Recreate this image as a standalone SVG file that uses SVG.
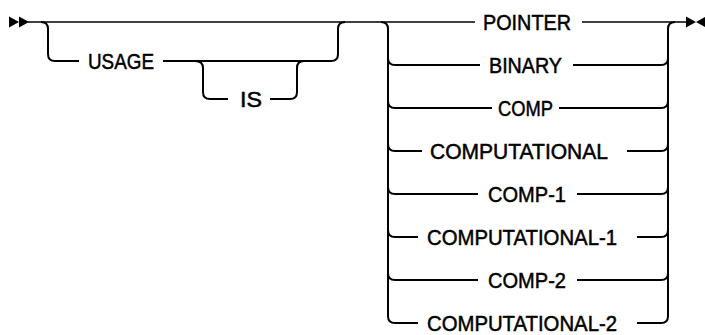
<svg xmlns="http://www.w3.org/2000/svg" width="705" height="335" viewBox="0 0 705 335">
<style>
.ln{fill:none;stroke:#000;stroke-width:2;stroke-linecap:butt}
.mn{fill:none;stroke:#000;stroke-width:1.6}
.ar{fill:#000;stroke:none}
text{font-family:"Liberation Sans",Arial,sans-serif;font-size:22px;fill:#000;stroke:#000;stroke-width:0.5}
</style>
<rect width="705" height="335" fill="#fff"/>
<g id="connectors">
<path class="ar" d="M9,16.5 L19,22 L9,27.5 Z M19,16.5 L29,22 L19,27.5 Z"/>
<path class="mn" d="M28,22 H475 M582,22 H686"/>
<path class="ar" d="M686,16.5 L696,22 L686,27.5 Z M706,16.5 L696,22 L706,27.5 Z"/>
<path class="ln" d="M41,22 Q48,22 48,29 V54 Q48,61 55,61 H79"/>
<path class="ln" d="M163,61 H331 Q338,61 338,54 V29 Q338,22 345,22"/>
<path class="ln" d="M195,61 Q203,61 203,68 V92 Q203,99 210,99 H228"/>
<path class="ln" d="M270,99 H290 Q297,99 297,92 V68 Q297,61 304,61"/>
<path class="ln" d="M381,22 Q388,22 388,29 V316 Q388,323 395,323 H418"/>
<path class="ln" d="M637,323 H661 Q668,323 668,316 V29 Q668,22 675,22"/>
<path class="ln" d="M388,58 Q388,65 395,65 H480 M573,65 H661 Q668,65 668,58"/>
<path class="ln" d="M388,101 Q388,108 395,108 H492 M559,108 H661 Q668,108 668,101"/>
<path class="ln" d="M388,144 Q388,151 395,151 H422 M627,151 H661 Q668,151 668,144"/>
<path class="ln" d="M388,187 Q388,194 395,194 H478 M577,194 H661 Q668,194 668,187"/>
<path class="ln" d="M388,230 Q388,237 395,237 H418 M637,237 H661 Q668,237 668,230"/>
<path class="ln" d="M388,273 Q388,280 395,280 H478 M577,280 H661 Q668,280 668,273"/>
</g>
<g id="usage"><text x="88" y="69" textLength="66" lengthAdjust="spacingAndGlyphs">USAGE</text></g>
<g id="is"><text x="240" y="107" textLength="22" lengthAdjust="spacingAndGlyphs">IS</text></g>
<g id="pointer"><text x="483" y="29.5" textLength="88" lengthAdjust="spacingAndGlyphs">POINTER</text></g>
<g id="binary"><text x="489" y="72.5" textLength="73" lengthAdjust="spacingAndGlyphs">BINARY</text></g>
<g id="comp"><text x="498" y="115.5" textLength="55" lengthAdjust="spacingAndGlyphs">COMP</text></g>
<g id="computational"><text x="430" y="158.5" textLength="178" lengthAdjust="spacingAndGlyphs">COMPUTATIONAL</text></g>
<g id="comp-1"><text x="488" y="201.5" textLength="78" lengthAdjust="spacingAndGlyphs">COMP-1</text></g>
<g id="computational-1"><text x="427" y="244.5" textLength="190" lengthAdjust="spacingAndGlyphs">COMPUTATIONAL-1</text></g>
<g id="comp-2"><text x="488" y="287.5" textLength="78" lengthAdjust="spacingAndGlyphs">COMP-2</text></g>
<g id="computational-2"><text x="427" y="330.5" textLength="190" lengthAdjust="spacingAndGlyphs">COMPUTATIONAL-2</text></g>
</svg>
